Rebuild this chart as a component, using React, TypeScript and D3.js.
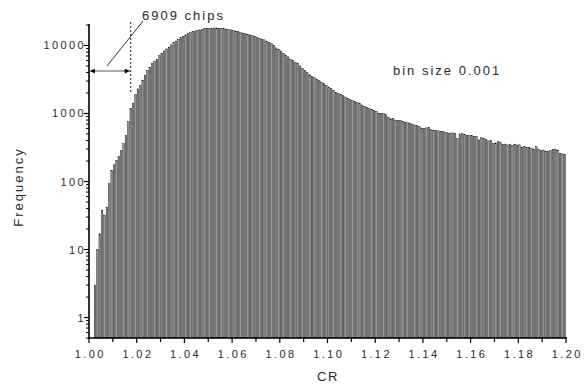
import * as d3 from 'd3';
import React from 'react';

// histogram of CR, bin size 0.001 starting at 1.000
const binStart = 1.0;
const binSize = 0.001;
const counts = [
  0, 0, 3, 10, 17, 38, 32, 42, 93, 145,
  176, 204, 235, 285, 360, 475, 760, 1180, 1390, 1900,
  2300, 2600, 3100, 3600, 4300, 4800, 5500, 5900, 6200, 7100,
  7600, 8300, 8900, 9500, 10200, 11000, 11600, 12300, 13000, 13700,
  14300, 14900, 15400, 15900, 16300, 16700, 17000, 17300, 17600, 17800,
  17900, 18000, 18100, 18100, 18000, 17800, 17600, 17400, 17200, 17000,
  16600, 16300, 16000, 15600, 15200, 14900, 14600, 14300, 13900, 13500,
  13100, 12800, 12400, 12100, 11600, 11100, 10600, 10000, 9200, 8800,
  8300, 7700, 7200, 6800, 6300, 6000, 5700, 5400, 5000, 4600,
  4300, 4000, 3700, 3500, 3350, 3200, 3050, 2900, 2750, 2600,
  2450, 2330, 2200, 2050, 1980, 1900, 1830, 1750, 1660, 1590,
  1550, 1500, 1460, 1400, 1330, 1280, 1230, 1180, 1150, 1110,
  1080, 1010, 1000, 990, 960, 880, 835, 850, 800, 790,
  785, 770, 750, 730, 720, 700, 680, 660, 640, 610,
  600, 615, 625, 580, 565, 560, 555, 545, 540, 530,
  520, 515, 520, 510, 425, 500, 505, 490, 480, 470,
  475, 460, 455, 410, 440, 430, 420, 395, 400, 360,
  370, 385, 380, 350, 355, 345, 350, 340, 355, 345,
  345, 320, 330, 315, 320, 310, 300, 325, 300, 285,
  290, 280, 275, 285, 295, 300, 290, 260, 255, 250,
];

const xTicks = [1.0, 1.02, 1.04, 1.06, 1.08, 1.1, 1.12, 1.14, 1.16, 1.18, 1.2];
const xMinorTicks = [1.01, 1.03, 1.05, 1.07, 1.09, 1.11, 1.13, 1.15, 1.17, 1.19];
const yTicks = [1, 10, 100, 1000, 10000];
const yTickLabels = ['1', '10', '100', '1000', '10000'];

// annotation: chips left of the dashed cut
const cutCR = 1.0175;
const chipsLabel = '6909 chips';
const binLabel = 'bin size 0.001';

const W = 586;
const H = 386;
const left = 89;
const right = 566;
const top = 25;
const bottom = 338;
const font = 'Liberation Sans, Arial, sans-serif';

export default function App() {
  const x = d3.scaleLinear().domain([1.0, 1.2]).range([left, right]);
  const y = d3.scaleLog().domain([0.5, 20000]).range([bottom, top]);

  // minor ticks 2..9 for every decade inside the domain
  const yMinor: number[] = [];
  for (let e = -1; e <= 4; e++) {
    for (let m = 2; m <= 9; m++) {
      const v = m * Math.pow(10, e);
      if (v >= 0.5 && v <= 20000) yMinor.push(v);
    }
  }

  const bins = counts.map((c, i) => ({ x0: binStart + i * binSize, x1: binStart + (i + 1) * binSize, c }));
  const cutX = x(cutCR);
  const arrowY = 71;

  return (
    <svg width={W} height={H} style={{ position: 'absolute', left: 0, top: 0, background: '#fff' }} fontFamily={font}>
      <defs>
        <marker id="ah" viewBox="0 0 10 10" refX="10" refY="5" markerWidth="6" markerHeight="5" orient="auto-start-reverse" markerUnits="userSpaceOnUse">
          <path d="M0,0 L10,5 L0,10 z" fill="#000" />
        </marker>
      </defs>

      {/* bars */}
      <g>
        {bins
          .filter((b) => b.c > 0)
          .map((b, i) => (
            <rect
              key={i}
              x={x(b.x0) + 0.4}
              y={y(b.c)}
              width={x(b.x1) - x(b.x0) - 0.8}
              height={bottom - y(b.c)}
              fill="#979797"
              stroke="#000"
              strokeWidth={0.4}
            />
          ))}
      </g>

      {/* y axis */}
      <line x1={left} x2={left} y1={top - 1} y2={bottom + 1} stroke="#000" strokeWidth={1.6} />
      {yTicks.map((t, i) => (
        <g key={t}>
          <line x1={left - 5} x2={left} y1={y(t)} y2={y(t)} stroke="#000" strokeWidth={1.2} />
          <text x={left - 3} y={y(t) + 4} textAnchor="end" fontSize={11} letterSpacing={2.4} fill="#2a2a2a">
            {yTickLabels[i]}
          </text>
        </g>
      ))}
      {yMinor.map((t) => (
        <line key={t} x1={left - 3} x2={left} y1={y(t)} y2={y(t)} stroke="#000" strokeWidth={1} />
      ))}

      {/* x axis */}
      <line x1={left - 1} x2={right + 1} y1={bottom} y2={bottom} stroke="#000" strokeWidth={1.6} />
      {xTicks.map((t) => (
        <g key={t}>
          <line x1={x(t)} x2={x(t)} y1={bottom} y2={bottom + 5} stroke="#000" strokeWidth={1.2} />
          <text x={x(t) + 1.2} y={bottom + 20} textAnchor="middle" fontSize={11} letterSpacing={2.4} fill="#2a2a2a">
            {d3.format('.2f')(t)}
          </text>
        </g>
      ))}
      {xMinorTicks.map((t) => (
        <line key={t} x1={x(t)} x2={x(t)} y1={bottom} y2={bottom + 4} stroke="#000" strokeWidth={1.2} />
      ))}

      {/* axis titles */}
      <text x={328} y={381} textAnchor="middle" fontSize={13} letterSpacing={1.5} fill="#2a2a2a">
        CR
      </text>
      <text transform={`translate(23,${187}) rotate(-90)`} textAnchor="middle" fontSize={13} letterSpacing={2} fill="#2a2a2a">
        Frequency
      </text>

      {/* annotation */}
      <line x1={cutX} x2={cutX} y1={22} y2={92} stroke="#000" strokeWidth={0.9} strokeDasharray="2,2" />
      <line x1={left + 1} x2={cutX - 1} y1={arrowY} y2={arrowY} stroke="#555" strokeWidth={1.2} markerStart="url(#ah)" markerEnd="url(#ah)" />
      <line x1={107} x2={143} y1={66} y2={21} stroke="#000" strokeWidth={0.8} />
      <text x={142} y={20} fontSize={13} letterSpacing={2} fill="#2a2a2a">
        {chipsLabel}
      </text>
      <text x={393} y={75} fontSize={13} letterSpacing={2} fill="#2a2a2a">
        {binLabel}
      </text>
    </svg>
  );
}
